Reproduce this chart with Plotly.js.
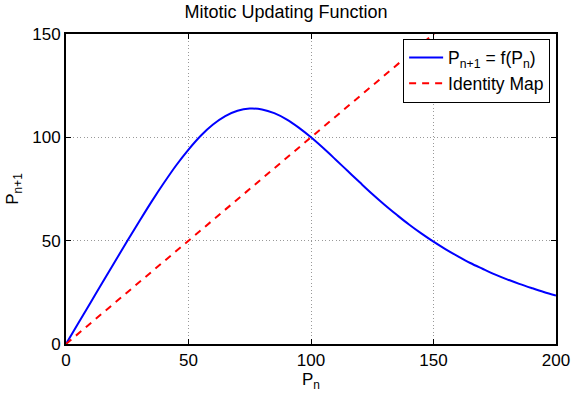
<!DOCTYPE html>
<html><head><meta charset="utf-8">
<script src="https://cdn.plot.ly/plotly-3.0.1.min.js"></script>
<style>html,body{margin:0;padding:0;background:#fff}#chart{width:572px;height:395px}</style>
</head><body><div id="chart"></div>
<script>
// Population P_n (x) and mitotic update P_{n+1} (y)
const pn = [0,5,10,15,20,25,30,35,40,45,50,55,60,65,70,75,80,85,90,95,100,
            105,110,115,120,125,130,135,140,145,150,155,160,165,170,175,180,185,190,195,200];
const pnext = [0,10.0,20.0,30.0,39.9,49.8,59.5,69.0,78.0,86.5,94.1,100.8,106.2,110.3,112.9,113.9,113.5,111.7,108.7,104.7,100.0,
               94.8,89.3,83.7,78.1,72.6,67.4,62.5,57.8,53.5,49.5,45.8,42.4,39.2,36.4,33.7,31.3,29.1,27.1,25.2,23.5];
const idX = [0,200];
const idY = [0,200];
const xTicks = [0,50,100,150,200];
const yTicks = [0,50,100,150];

const font = "Liberation Sans, Arial, Helvetica, sans-serif";
const traces = [
  {x: pn, y: pnext, mode:'lines', line:{color:'#0000ff', width:2, shape:'spline'},
   name:'P<sub>n+1</sub> = f(P<sub>n</sub>)'},
  {x: idX, y: idY, mode:'lines', line:{color:'#ff0000', width:2, dash:'7px,6px'},
   name:'Identity Map'}
];
const axisCommon = {
  showline:true, linecolor:'#000', linewidth:2, mirror:'ticks',
  ticks:'inside', ticklen:5, tickwidth:1, tickcolor:'#000',
  showgrid:true, gridcolor:'#999', griddash:'1px,2.5px', gridwidth:1,
  zeroline:false, tickfont:{family:font, size:17, color:'#000'}
};
const layout = {
  width:572, height:395,
  margin:{l:66, r:16, t:34, b:51},
  paper_bgcolor:'#fff', plot_bgcolor:'#fff',
  font:{family:font, color:'#000', size:17},
  title:{text:'Mitotic Updating Function', font:{family:font, size:18, color:'#000'},
         x:0.5, xanchor:'center', y:0.97, yanchor:'middle'},
  xaxis: Object.assign({}, axisCommon, {range:[0,200], tickvals:xTicks, ticktext:xTicks.map(String),
         title:{text:'P<sub>n</sub>', font:{family:font, size:17}, standoff:2}}),
  yaxis: Object.assign({}, axisCommon, {range:[0,150], tickvals:yTicks, ticktext:yTicks.map(String),
         title:{text:'P<sub>n+1</sub>', font:{family:font, size:17}, standoff:9}}),
  showlegend:true,
  legend:{x:0.988, y:0.985, xanchor:'right', yanchor:'top', bgcolor:'#fff',
          bordercolor:'#000', borderwidth:1, font:{family:font, size:17.5, color:'#000'},
          tracegroupgap:0, itemwidth:34}
};
Plotly.newPlot('chart', traces, layout, {displayModeBar:false, staticPlot:true});
</script></body></html>
